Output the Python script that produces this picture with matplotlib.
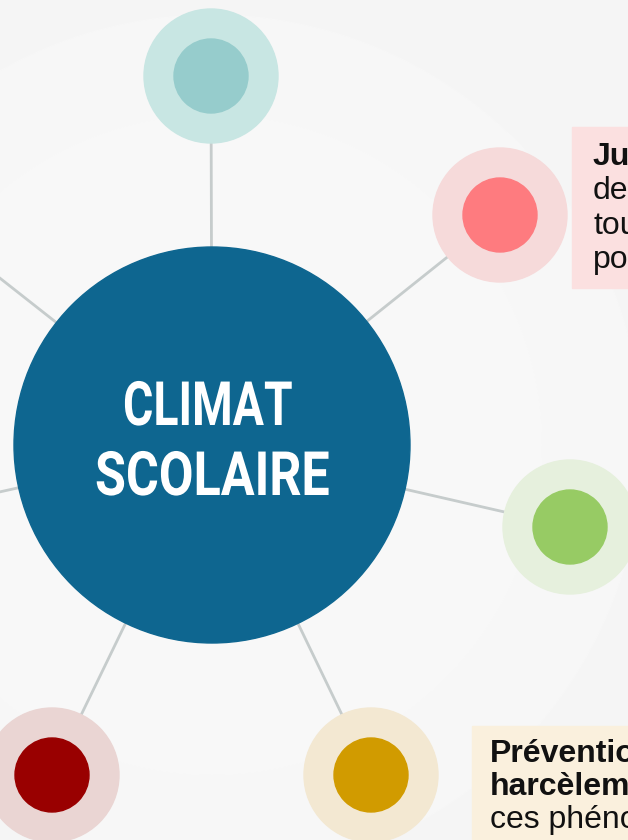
import matplotlib.pyplot as plt
from matplotlib.patches import Circle, Rectangle
from matplotlib.patheffects import AbstractPathEffect
from matplotlib.transforms import Affine2D

# centre node
centre = (212, 445)
centre_r = 198
centre_col = '#0e6690'
centre_lines = ['CLIMAT', 'SCOLAIRE']

# satellite nodes (x, y in pixels), inner colour, halo colour
sat_x = [211, 500, 570, 371, 52, -135, -150]
sat_y = [76, 215, 527, 775, 775, 172, 525]
sat_inner = ['#96cccc', '#fe7b7f', '#97cb64', '#d19b00', '#990000', '#96cccc', '#97cb64']
sat_halo = ['#c8e6e3', '#f6dada', '#e6f0dd', '#f3e8d2', '#ead5d3', '#c8e6e3', '#e6f0dd']

# text boxes (partly cut by the right edge)
pink_lines = ['Justice', 'des', 'tous', 'pour']
gold_lines = ['Prévention', 'harcèlement', 'ces phénomènes']


class Squeeze(AbstractPathEffect):
    # narrows glyphs horizontally around cx (display px)
    def __init__(self, sx, cx):
        super().__init__()
        self.sx = sx
        self.cx = cx

    def draw_path(self, renderer, gc, tpath, affine, rgbFace=None):
        t = affine + Affine2D().translate(-self.cx, 0).scale(self.sx, 1).translate(self.cx, 0)
        renderer.draw_path(gc, tpath, t, rgbFace)


fig = plt.figure(figsize=(6.28, 8.4), dpi=100)
fig.patch.set_facecolor('#f5f5f5')
ax = fig.add_axes([0, 0, 1, 1])
ax.set_xlim(0, 628)
ax.set_ylim(840, 0)
ax.set_aspect('equal')
ax.axis('off')

# faint rings in the background
for rr, c in [(430, '#f7f7f7'), (330, '#f8f8f8')]:
    ax.add_patch(Circle(centre, rr, color=c, zorder=0))

# connecting lines
for x, y in zip(sat_x, sat_y):
    ax.plot([centre[0], x], [centre[1], y], color='#c6cccc', lw=2, zorder=1,
            solid_capstyle='butt')

for x, y, ci, ch in zip(sat_x, sat_y, sat_inner, sat_halo):
    ax.add_patch(Circle((x, y), 67, color=ch, zorder=2))
    ax.add_patch(Circle((x, y), 37, color=ci, zorder=3))

ax.add_patch(Circle(centre, centre_r, color=centre_col, zorder=4))
t1 = ax.text(208, 425, centre_lines[0], color='white', fontsize=44, fontweight='bold',
             family='Roboto', ha='center', va='baseline', zorder=5)
t2 = ax.text(212.5, 495, centre_lines[1], color='white', fontsize=44, fontweight='bold',
             family='Roboto', ha='center', va='baseline', zorder=5)

# pink box
ax.add_patch(Rectangle((572, 127), 100, 161, color='#fbe0e0', zorder=2))
for i, t in enumerate(pink_lines):
    ax.text(593, 165 + i * 34.3, t, fontsize=23, family='Liberation Sans',
            fontweight='bold' if i == 0 else 'normal', va='baseline', ha='left',
            color='#111111', zorder=6)

# gold box
ax.add_patch(Rectangle((472, 726), 200, 130, color='#faf0dd', zorder=2))
for i, t in enumerate(gold_lines):
    ax.text(490, 762 + i * 33, t, fontsize=23, family='Liberation Sans',
            fontweight='bold' if i < 2 else 'normal', va='baseline', ha='left',
            color='#111111', zorder=6)

# narrow the title glyphs so each line matches its width in the original
fig.canvas.draw()
for txt, w in [(t1, 170), (t2, 235)]:
    bb = txt.get_window_extent()
    txt.set_path_effects([Squeeze(w / bb.width, (bb.x0 + bb.x1) / 2)])

fig.savefig('out.png', dpi=100, facecolor=fig.get_facecolor())
